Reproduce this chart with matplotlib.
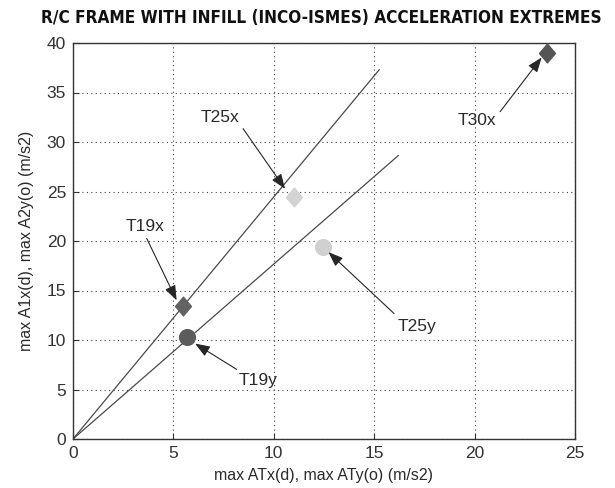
import matplotlib
matplotlib.use("Agg")
import matplotlib.pyplot as plt
from matplotlib import font_manager as fm
from matplotlib.path import Path
import numpy as np

# Data
labels = ["T19x", "T25x", "T30x", "T19y", "T25y"]
xs = [5.49, 11.02, 23.62, 5.69, 12.47]
ys = [13.41, 24.43, 39.04, 10.31, 19.39]
kinds = ["d", "d", "d", "o", "o"]
colors = ["#626262", "#d3d3d3", "#555555", "#5c5c5c", "#d0d0d0"]
text_pos = [(3.61, 21.47), (7.32, 32.46), (20.14, 32.16), (9.23, 5.95), (17.12, 11.32)]
arrow_tip = [(5.16, 14.01), (10.56, 25.27), (23.34, 38.54), (6.08, 9.64), (12.72, 18.88)]
arrow_tail = [(3.67, 20.26), (8.47, 31.35), (21.27, 33.06), (8.15, 7.03), (15.99, 12.67)]
line_ends_x = [15.25, 16.2]
line_ends_y = [37.3, 28.63]
title = "R/C FRAME WITH INFILL (INCO-ISMES) ACCELERATION EXTREMES"

plt.rcParams["font.family"] = ["Liberation Sans", "DejaVu Sans"]

fig = plt.figure(figsize=(6.15, 4.88), dpi=100)
ax = fig.add_axes([73 / 615, 1 - 439 / 488, 502 / 615, 396 / 488])

for ex, ey in zip(line_ends_x, line_ends_y):
    ax.plot([0, ex], [0, ey], color="#4a4a4a", lw=0.9, zorder=2)

diamond = Path([(0, 1), (0.85, 0), (0, -1), (-0.85, 0), (0, 1)],
               [Path.MOVETO, Path.LINETO, Path.LINETO, Path.LINETO, Path.CLOSEPOLY])
for x, y, k, c in zip(xs, ys, kinds, colors):
    if k == "d":
        ax.plot(x, y, marker=diamond, ms=13.5, color=c, mec=c, ls="none", zorder=3)
    else:
        ax.plot(x, y, marker="o", ms=11.3, color=c, mec=c, ls="none", zorder=3)

for lab, tp, tip, tail in zip(labels, text_pos, arrow_tip, arrow_tail):
    ax.text(tp[0], tp[1], lab, fontsize=12.5, color="#2a2a2a", ha="center", va="center", zorder=4)
    ax.annotate("", xy=tip, xytext=tail,
                arrowprops=dict(arrowstyle="-|>,head_length=0.45,head_width=0.17",
                                color="#262626", lw=0.8, mutation_scale=20,
                                shrinkA=0, shrinkB=0), zorder=4)

ax.set_xlim(0, 25)
ax.set_ylim(0, 40)
ax.set_xticks(np.arange(0, 26, 5))
ax.set_yticks(np.arange(0, 41, 5))
ax.grid(True, linestyle=(0, (1, 3)), color="#404040", lw=0.8)
ax.tick_params(direction="in", labelsize=12.5, length=4, colors="#333333", pad=5)
for s in ax.spines.values():
    s.set_color("#333333")
    s.set_linewidth(1.0)

ax.set_xlabel("max ATx(d), max ATy(o) (m/s2)", fontsize=11.5, color="#2a2a2a", labelpad=5)
ax.set_ylabel("max A1x(d), max A2y(o) (m/s2)", fontsize=11.5, color="#2a2a2a", labelpad=9)

# Title: prefer a narrow / condensed bold face, fitted to the reference width
cand = None
for f in fm.fontManager.ttflist:
    nm = (f.name + " " + str(f.stretch)).lower()
    if ("narrow" in nm or "condensed" in nm) and f.weight in ("bold", 700, "heavy", 800):
        cand = f
        break
if cand is not None:
    tprops = dict(fontproperties=fm.FontProperties(fname=cand.fname))
else:
    tprops = dict(family=["Liberation Sans", "DejaVu Sans"], fontweight="bold")
fs = 14.0
t = fig.text(321 / 615, 1 - 18 / 488, title, ha="center", va="center", color="#111111", **tprops)
t.set_fontsize(fs)
r = fig.canvas.get_renderer()
w = t.get_window_extent(r).width
fs = fs * 566.0 / w
t.set_fontsize(min(fs, 15.5))

fig.savefig("out.png", dpi=100)
